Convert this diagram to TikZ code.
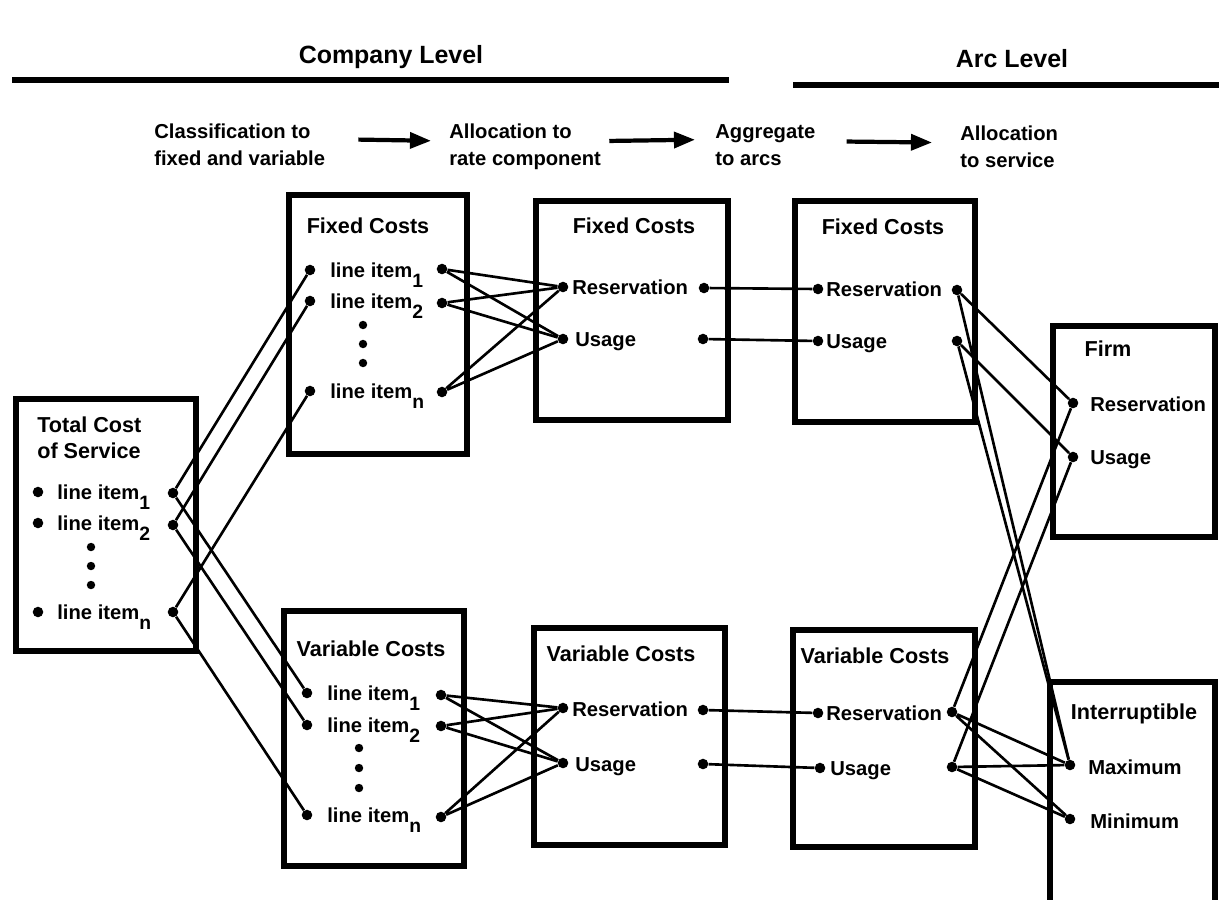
\documentclass[tikz,border=0pt]{standalone}
\usepackage{fontspec}
\setmainfont{Liberation Sans}
\usetikzlibrary{arrows.meta,positioning}
\newcommand{\lsub}[1]{\raisebox{-5.5pt}{\fontsize{11}{11}\selectfont #1}}

\begin{document}
\begin{tikzpicture}[
    x=0.02cm, y=-0.02cm,
    every node/.style={font=\bfseries\fontsize{11.5}{15.3}\selectfont},
    box/.style={draw, line width=3.6pt, inner sep=0pt},
    title/.style={font=\bfseries\fontsize{12.3}{14.5}\selectfont, inner sep=0pt, text height=9pt, text depth=0pt},
    head/.style={font=\bfseries\fontsize{14.2}{16}\selectfont, inner sep=0pt, text height=10pt, text depth=0pt},
    item/.style={anchor=west, inner sep=0pt, text height=9pt, text depth=0pt},
    stage/.style={anchor=base west, align=left, inner sep=0pt},
    dot/.style={circle, fill, inner sep=0pt, minimum size=6pt},
    pip/.style={circle, fill, inner sep=0pt, minimum size=4.8pt},
    link/.style={line width=1.5pt},
    rule/.style={line width=3.2pt},
    flow/.style={-{Triangle[length=12pt, width=9pt]}, line width=2.4pt}
]
\useasboundingbox (0,0) rectangle (1219,899);
\clip (0,0) rectangle (1219,899);

% levels
\node[head] (company) at (391,55) {Company Level};
\node[head] (arclevel) at (1012,59) {Arc Level};
\draw[rule] (12,80) -- (729,80);
\draw[rule] (793,85) -- (1219,85);

% stages
\node[stage] (classify) at (154,165) {Classification to\\fixed and variable};
\node[stage] (allocrate) at (449,165) {Allocation to\\rate component};
\node[stage] (aggregate) at (715,165) {Aggregate\\to arcs};
\node[stage] (allocserv) at (960,167) {Allocation\\to service};
\draw[flow, shorten <=0.66cm, shorten >=0.36cm] ([yshift=3pt]classify.east) -- ([yshift=3pt]allocrate.west);
\draw[flow, shorten <=0.16cm, shorten >=0.4cm] ([yshift=3pt]allocrate.east) -- ([yshift=3pt]aggregate.west);
\draw[flow, shorten <=0.62cm, shorten >=0.56cm] ([yshift=2pt]aggregate.east) -- ([yshift=2pt]allocserv.west);

% boxes
\node[box, minimum width=3.6cm, minimum height=5.04cm] (total) at (106,525) {};
\node[box, minimum width=3.56cm, minimum height=5.18cm] (cfixed) at (378,324.5) {};
\node[box, minimum width=3.6cm, minimum height=5.1cm] (cvar) at (374,738.5) {};
\node[box, minimum width=3.84cm, minimum height=4.38cm] (rfixed) at (632,310.5) {};
\node[box, minimum width=3.82cm, minimum height=4.34cm] (rvar) at (629.5,736.5) {};
\node[box, minimum width=3.6cm, minimum height=4.42cm] (afixed) at (885,311.5) {};
\node[box, minimum width=3.64cm, minimum height=4.34cm] (avar) at (884,738.5) {};
\node[box, minimum width=3.24cm, minimum height=4.22cm] (firm) at (1134,431.5) {};
\node[box, minimum width=3.3cm, minimum height=4.96cm] (inter) at (1132.5,806) {};

% total cost of service
\node[stage, font=\bfseries\fontsize{12.3}{14.5}\selectfont] (tctitle) at (37,458) {Total Cost\\of Service};
\node[dot] (tcb1) at (38,492) {};
\node[dot] (tcb2) at (38,523) {};
\node[dot] (tcbn) at (38,612) {};
\node[item] (tcitem1) at (57,492) {line item\lsub{1}};
\node[item] (tcitem2) at (57,523) {line item\lsub{2}};
\node[item] (tcitemn) at (57,612) {line item\lsub{n}};
\node[pip] (tcdot1) at (91,547) {};
\node[pip] (tcdot2) at (91,566) {};
\node[pip] (tcdot3) at (91,585) {};
\node[dot] (tcout1) at (173,493) {};
\node[dot] (tcout2) at (173,525) {};
\node[dot] (tcoutn) at (173,612) {};

% company level, fixed
\node[title] (cftitle) at (368,226) {Fixed Costs};
\node[dot] (cfin1) at (310,270) {};
\node[dot] (cfin2) at (310,301) {};
\node[dot] (cfinn) at (310,391) {};
\node[item] (cfitem1) at (330,270) {line item\lsub{1}};
\node[item] (cfitem2) at (330,301) {line item\lsub{2}};
\node[item] (cfitemn) at (330,391) {line item\lsub{n}};
\node[pip] (cfdot1) at (363,325) {};
\node[pip] (cfdot2) at (363,344) {};
\node[pip] (cfdot3) at (363,363) {};
\node[dot] (cfout1) at (442,269) {};
\node[dot] (cfout2) at (442,303) {};
\node[dot] (cfoutn) at (442,392) {};

% company level, variable
\node[title] (cvtitle) at (371,649) {Variable Costs};
\node[dot] (cvin1) at (307,693) {};
\node[dot] (cvin2) at (307,725) {};
\node[dot] (cvinn) at (307,815) {};
\node[item] (cvitem1) at (327,693) {line item\lsub{1}};
\node[item] (cvitem2) at (327,725) {line item\lsub{2}};
\node[item] (cvitemn) at (327,815) {line item\lsub{n}};
\node[pip] (cvdot1) at (359,748) {};
\node[pip] (cvdot2) at (359,768) {};
\node[pip] (cvdot3) at (359,788) {};
\node[dot] (cvout1) at (441,695) {};
\node[dot] (cvout2) at (441,726) {};
\node[dot] (cvoutn) at (441,817) {};

% rate components
\node[title] (rftitle) at (634,226) {Fixed Costs};
\node[dot] (rfresin) at (563,287) {};
\node[dot] (rfusein) at (563,339) {};
\node[item] (rfres) at (572,287) {Reservation};
\node[item] (rfuse) at (575,339) {Usage};
\node[dot] (rfresout) at (704,288) {};
\node[dot] (rfuseout) at (703,339) {};

\node[title] (rvtitle) at (621,654) {Variable Costs};
\node[dot] (rvresin) at (563,708) {};
\node[dot] (rvusein) at (563,763) {};
\node[item] (rvres) at (572,709) {Reservation};
\node[item] (rvuse) at (575,764) {Usage};
\node[dot] (rvresout) at (703,710) {};
\node[dot] (rvuseout) at (703,764) {};

% arcs
\node[title] (aftitle) at (883,227) {Fixed Costs};
\node[dot] (afresin) at (818,289) {};
\node[dot] (afusein) at (818,341) {};
\node[item] (afres) at (826,289) {Reservation};
\node[item] (afuse) at (826,341) {Usage};
\node[dot] (afresout) at (957,290) {};
\node[dot] (afuseout) at (957,341) {};

\node[title] (avtitle) at (875,656) {Variable Costs};
\node[dot] (avresin) at (818,713) {};
\node[dot] (avusein) at (820,768) {};
\node[item] (avres) at (826,713) {Reservation};
\node[item] (avuse) at (830,768) {Usage};
\node[dot] (avresout) at (952,712) {};
\node[dot] (avuseout) at (952,767) {};

% services
\node[title] (firmtitle) at (1108,349) {Firm};
\node[dot] (firmres) at (1073,403) {};
\node[dot] (firmuse) at (1073,457) {};
\node[item] (firmrestext) at (1090,404) {Reservation};
\node[item] (firmusetext) at (1090,457) {Usage};

\node[title] (intertitle) at (1134,712) {Interruptible};
\node[dot] (intmax) at (1070,765) {};
\node[dot] (intmin) at (1070,819) {};
\node[item] (intmaxtext) at (1088,767) {Maximum};
\node[item] (intmintext) at (1090,821) {Minimum};

% classification
\draw[link] (tcout1) -- (cfin1) (tcout1) -- (cvin1);
\draw[link] (tcout2) -- (cfin2) (tcout2) -- (cvin2);
\draw[link] (tcoutn) -- (cfinn) (tcoutn) -- (cvinn);
% rate components
\draw[link] (cfout1) -- (rfresin) (cfout1) -- (rfusein);
\draw[link] (cfout2) -- (rfresin) (cfout2) -- (rfusein);
\draw[link] (cfoutn) -- (rfresin) (cfoutn) -- (rfusein);
\draw[link] (cvout1) -- (rvresin) (cvout1) -- (rvusein);
\draw[link] (cvout2) -- (rvresin) (cvout2) -- (rvusein);
\draw[link] (cvoutn) -- (rvresin) (cvoutn) -- (rvusein);
% arcs
\draw[link] (rfresout) -- (afresin);
\draw[link] (rfuseout) -- (afusein);
\draw[link] (rvresout) -- (avresin);
\draw[link] (rvuseout) -- (avusein);
% services
\draw[link] (afresout) -- (firmres) (afresout) -- (intmax);
\draw[link] (afuseout) -- (firmuse) (afuseout) -- (intmax);
\draw[link] (avresout) -- (firmres) (avresout) -- (intmax) (avresout) -- (intmin);
\draw[link] (avuseout) -- (firmuse) (avuseout) -- (intmax) (avuseout) -- (intmin);
\end{tikzpicture}
\end{document}
